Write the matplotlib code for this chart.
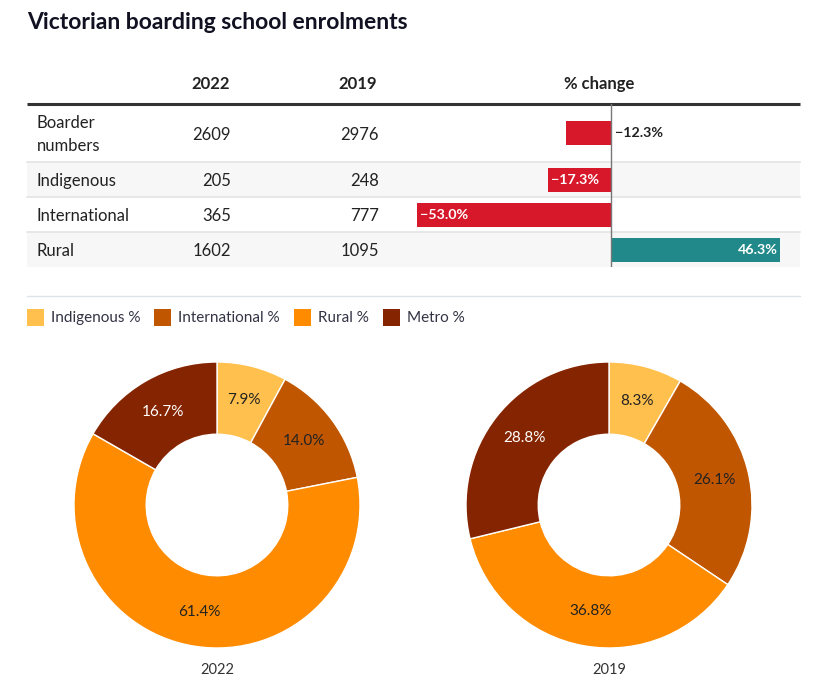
import matplotlib
matplotlib.use("Agg")
import matplotlib.pyplot as plt
from matplotlib.patches import Rectangle

plt.rcParams['font.family'] = ['Lato', 'DejaVu Sans']

# table data
categories = ["Boarder\nnumbers", "Indigenous", "International", "Rural"]
n2022 = [2609, 205, 365, 1602]
n2019 = [2976, 248, 777, 1095]
pct_change = [-12.3, -17.3, -53.0, 46.3]

# donut data
groups = ["Indigenous %", "International %", "Rural %", "Metro %"]
share2022 = [7.9, 14.0, 61.4, 16.7]
share2019 = [8.3, 26.1, 36.8, 28.8]
colors = ["#ffc04d", "#c05600", "#ff8c00", "#852400"]

W, H = 837, 691
fig = plt.figure(figsize=(W / 100, H / 100), dpi=100)


def px_axes(x0, y0, x1, y1):
    # axes placed in pixel coords (y measured from the top)
    return fig.add_axes([x0 / W, 1 - y1 / H, (x1 - x0) / W, (y1 - y0) / H])


dark = "#222222"

# base layer for the table layout
base = px_axes(0, 0, W, H)
base.set_xlim(0, W)
base.set_ylim(H, 0)
base.axis("off")

base.text(27, 22, "Victorian boarding school enrolments", fontsize=16.5,
          fontweight="bold", color="#111122", va="center", ha="left")

L, R = 27, 800
row_edges = [104, 162, 197, 232, 267]
for i in range(len(categories)):
    top, bot = row_edges[i], row_edges[i + 1]
    if i % 2 == 1:
        base.add_patch(Rectangle((L, top), R - L, bot - top, color="#f7f7f7", lw=0))
    if i > 0:
        base.plot([L, R], [top, top], color="#e4e4e4", lw=1.2)
    yc = (top + bot) / 2 + 1.5
    base.text(37, yc, categories[i], fontsize=12, color=dark, va="center",
              ha="left", linespacing=1.5)
    base.text(231, yc, f"{n2022[i]}", fontsize=12, color=dark, va="center", ha="right")
    base.text(379, yc, f"{n2019[i]}", fontsize=12, color=dark, va="center", ha="right")

base.text(211, 84, "2022", fontsize=12, fontweight="bold", color=dark, ha="center", va="center")
base.text(358, 84, "2019", fontsize=12, fontweight="bold", color=dark, ha="center", va="center")
base.text(599, 84, "% change", fontsize=12, fontweight="bold", color=dark, ha="center", va="center")
base.plot([L, R], [104, 104], color="#333333", lw=2.2, solid_capstyle="butt")

# legend row
base.plot([L, R], [296, 296], color="#dde3e8", lw=1)
lx = 27
for g, c in zip(groups, colors):
    base.add_patch(Rectangle((lx, 309), 17, 17, color=c, lw=0))
    t = base.text(lx + 24, 318, g, fontsize=11, color="#333344", va="center", ha="left")
    fig.canvas.draw()
    bb = t.get_window_extent()
    lx = lx + 24 + bb.width + 14

# % change bars
zero_px, k = 611, 194 / 53.0
bx0, bx1 = 400, 800
bar_ax = px_axes(bx0, row_edges[0], bx1, row_edges[-1])
bar_ax.set_xlim(-(zero_px - bx0) / k, (bx1 - zero_px) / k)
bar_ax.set_ylim(row_edges[-1], row_edges[0])
bar_ax.patch.set_alpha(0)
bar_ax.axis("off")
centers = [(row_edges[i] + row_edges[i + 1]) / 2 for i in range(len(categories))]
bar_colors = ["#d7182a" if v < 0 else "#21898a" for v in pct_change]
bar_ax.barh(centers, pct_change, height=24, color=bar_colors, lw=0)
bar_ax.axvline(0, color="#777777", lw=1)
for y, v in zip(centers, pct_change):
    lab = f"{v:.1f}%".replace("-", "\u2212")
    if v < 0 and abs(v) > 15:
        bar_ax.text(v + 0.8, y, lab, color="white", fontsize=10.3, fontweight="bold",
                    ha="left", va="center")
    elif v < 0:
        bar_ax.text(1.0, y, lab, color=dark, fontsize=10.3, fontweight="bold",
                    ha="left", va="center")
    else:
        bar_ax.text(v - 0.8, y, lab, color="white", fontsize=10.3, fontweight="bold",
                    ha="right", va="center")

# donuts
r_out = 143
for cx, shares, year in [(217, share2022, "2022"), (609, share2019, "2019")]:
    ax = px_axes(cx - r_out, 505 - r_out, cx + r_out, 505 + r_out)
    wedges, texts, autotexts = ax.pie(
        shares, colors=colors, startangle=90, counterclock=False,
        autopct="%.1f%%", pctdistance=0.755,
        wedgeprops=dict(width=0.505, edgecolor="white", linewidth=1),
        textprops=dict(fontsize=11, color=dark))
    autotexts[3].set_color("white")
    ax.set_xlim(-1, 1)
    ax.set_ylim(-1, 1)
    base.text(cx, 670, year, fontsize=10.5, color="#333333", ha="center", va="center")

fig.savefig("out.png", dpi=100)
